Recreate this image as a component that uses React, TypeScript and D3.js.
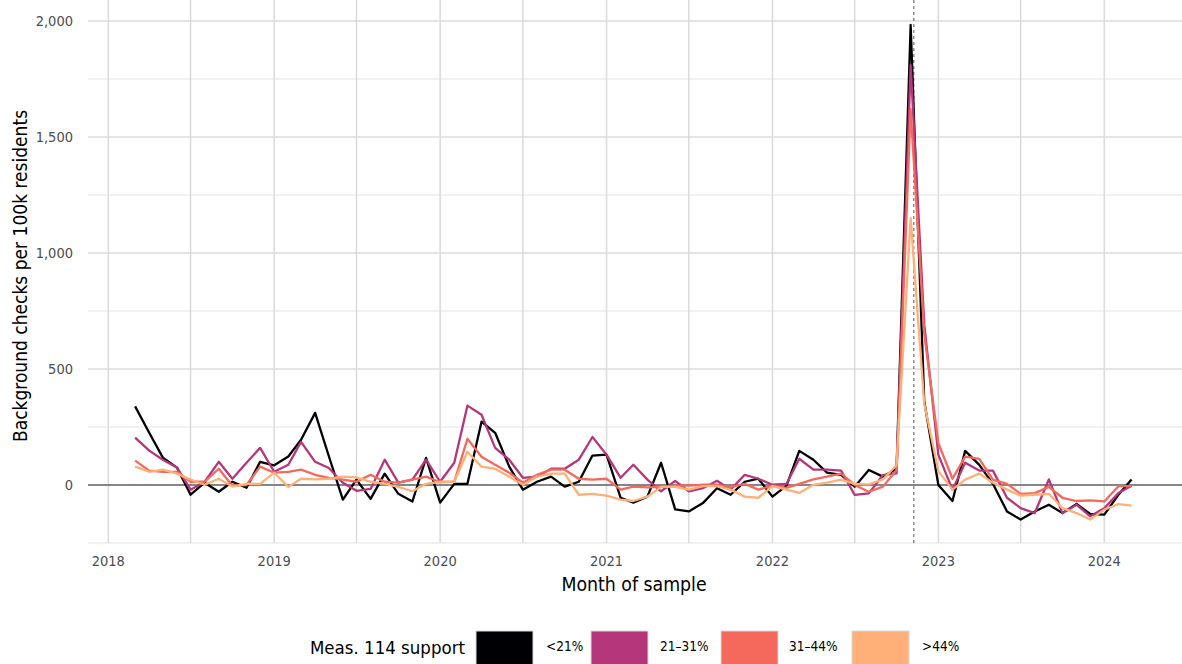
import React from "react";
import * as d3 from "d3";

// Monthly series, March 2018 – March 2024
const startDate = new Date(2018, 2, 1);
const groups = ["<21%", "21–31%", "31–44%", ">44%"];
const groupColors = ["#000004", "#b5367a", "#f4695c", "#feb078"];

const under21 = [
  339, 225, 118, 75, -42, 10, -29, 14, -12, 100,
  85, 123, 195, 311, 125, -63, 23, -60, 49, -38, -71, 117,
  -76, 5, 5, 273, 225, 79, -20, 14, 36, -7, 14, 127,
  131, -55, -76, -50, 96, -105, -114, -78, -14, -42, 14, 27,
  -50, -3, 147, 109, 53, 44, -7, 65, 36, 70, 1983, 360,
  0, -69, 147, 87, 5, -114, -149, -114, -85, -121, -82, -125,
  -128, -42, 24,
];
const from21to31 = [
  204, 148, 109, 75, -20, 14, 100, 27, 96, 160,
  57, 87, 186, 100, 73, 10, -25, -17, 109, 10, 23, 109,
  14, 96, 342, 303, 160, 109, 31, 36, 70, 70, 109, 207,
  131, 31, 87, 23, -27, 18, -27, -14, 18, -20, 44, 27,
  1, 5, 113, 66, 66, 62, -43, -36, 43, 50, 1810, 690,
  130, -20, 96, 62, 62, -55, -100, -121, 24, -121, -85, -135,
  -100, -35, -3,
];
const from31to44 = [
  105, 62, 57, 57, 14, 14, 70, -3, 0, 79,
  53, 57, 66, 44, 31, 23, 14, 44, 14, 10, 23, 36,
  12, 14, 199, 122, 87, 53, 10, 44, 66, 66, 27, 23,
  27, -20, -7, -10, -8, -3, -3, 1, 1, -8, 5, -20,
  -3, -12, 5, 24, 36, 49, 0, -29, -7, 65, 1620, 650,
  180, 27, 122, 113, 23, 5, -38, -35, -8, -55, -69, -66,
  -71, -5, -5,
];
const over44 = [
  79, 57, 66, 49, 23, 1, 27, -7, 5, 5,
  53, -8, 27, 24, 27, 36, 33, 14, 5, -8, -27, 5,
  14, 14, 143, 79, 70, 36, 1, 36, 49, 49, -42, -38,
  -46, -63, -69, -50, -8, -8, -20, -5, -5, -20, -50, -55,
  -5, -20, -34, 1, 10, 23, 5, 3, 24, 86, 1150, 350,
  60, -20, 23, 49, 10, -20, -46, -42, -38, -100, -121, -149,
  -106, -82, -89,
];
const seriesValues = [under21, from21to31, from31to44, over44];

const yMajorTicks = [0, 500, 1000, 1500, 2000];
const yMinorTicks = [-250, 250, 750, 1250, 1750];
const xTickYears = [2018, 2019, 2020, 2021, 2022, 2023, 2024];
const electionDate = new Date(2022, 10, 8);

const W = 1182;
const H = 664;
const FONT = "'DejaVu Sans Condensed', 'Liberation Sans Narrow', sans-serif";

export default function App() {
  const panel = { left: 88, right: 1182, top: 0, bottom: 543 };
  const x = d3
    .scaleTime()
    .domain([new Date(2018, 0, 1), new Date(2024, 0, 1)])
    .range([108.3, 1104.3]);
  const y = d3.scaleLinear().domain([0, 2000]).range([485, 21]);

  const dateAt = (i: number) => new Date(startDate.getFullYear(), startDate.getMonth() + i, 1);
  const line = d3
    .line<number>()
    .x((_, i) => x(dateAt(i)))
    .y((d) => y(d));

  const xMinor: Date[] = [];
  for (let yr = 2017; yr <= 2024; yr++) {
    const d = new Date(yr, 6, 1);
    const px = x(d);
    if (px > panel.left && px < panel.right) xMinor.push(d);
  }

  const legendItems = [
    { box: 476, text: 546 },
    { box: 591, text: 660 },
    { box: 721, text: 789 },
    { box: 852, text: 922 },
  ];

  return (
    <svg
      width={W}
      height={H}
      style={{ position: "absolute", left: 0, top: 0, background: "#fff" }}
      fontFamily={FONT}
    >
      {/* grid */}
      <g>
        {yMinorTicks.map((v) => (
          <line key={"ym" + v} x1={panel.left} x2={panel.right} y1={y(v)} y2={y(v)} stroke="#e3e3e3" strokeWidth={1} />
        ))}
        {yMajorTicks.map((v) => (
          <line key={"yM" + v} x1={panel.left} x2={panel.right} y1={y(v)} y2={y(v)} stroke="#dcdcdc" strokeWidth={1.3} />
        ))}
        {xMinor.map((d) => (
          <line key={"xm" + d.getTime()} x1={x(d)} x2={x(d)} y1={panel.top} y2={panel.bottom} stroke="#d6d6d6" strokeWidth={1.3} />
        ))}
        {xTickYears.map((yr) => (
          <line key={"xM" + yr} x1={x(new Date(yr, 0, 1))} x2={x(new Date(yr, 0, 1))} y1={panel.top} y2={panel.bottom} stroke="#dcdcdc" strokeWidth={1.6} />
        ))}
      </g>
      {/* zero line */}
      <line x1={panel.left} x2={panel.right} y1={y(0)} y2={y(0)} stroke="#666" strokeWidth={1.4} />
      {/* election date */}
      <line
        x1={x(electionDate)}
        x2={x(electionDate)}
        y1={panel.top}
        y2={panel.bottom}
        stroke="#555"
        strokeWidth={1}
        strokeDasharray="3,3"
      />
      {/* series */}
      {seriesValues.map((vals, k) => (
        <path key={groups[k]} d={line(vals) || ""} fill="none" stroke={groupColors[k]} strokeWidth={2.3} strokeLinejoin="round" />
      ))}
      {/* y ticks */}
      {yMajorTicks.map((v) => (
        <text key={"yt" + v} x={73} y={y(v)} dy="0.35em" textAnchor="end" fontSize={14.5} fill="#4d4d4d">
          {d3.format(",")(v)}
        </text>
      ))}
      {/* x ticks */}
      {xTickYears.map((yr) => (
        <text key={"xt" + yr} x={x(new Date(yr, 0, 1))} y={566} textAnchor="middle" fontSize={14.5} fill="#4d4d4d">
          {yr}
        </text>
      ))}
      {/* axis titles */}
      <text x={634} y={591} textAnchor="middle" fontSize={19.3} fill="#000">
        Month of sample
      </text>
      <text transform="translate(27,276) rotate(-90)" textAnchor="middle" fontSize={19} fill="#000">
        Background checks per 100k residents
      </text>
      {/* legend */}
      <text x={310} y={654} fontSize={18.5} fill="#000">
        Meas. 114 support
      </text>
      {groups.map((g, k) => (
        <g key={"lg" + g}>
          <rect x={legendItems[k].box} y={631} width={57} height={40} fill={groupColors[k]} stroke="#d9d9d9" strokeWidth={1} />
          <text x={legendItems[k].text} y={651} fontSize={13.5} fill="#000">
            {g}
          </text>
        </g>
      ))}
    </svg>
  );
}
